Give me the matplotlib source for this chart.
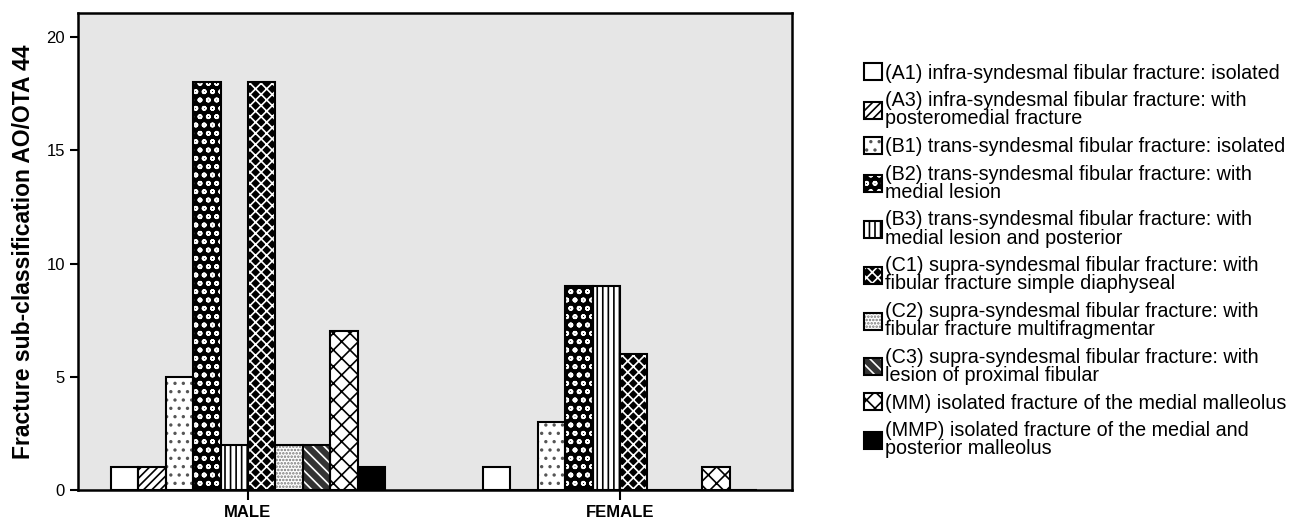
import numpy as np
import matplotlib.pyplot as plt
from matplotlib.patches import Patch
from matplotlib.legend_handler import HandlerTuple

plt.rcParams['font.family'] = ['Liberation Sans', 'DejaVu Sans']
plt.rcParams['hatch.linewidth'] = 1.2

groups = ["MALE", "FEMALE"]
labels = [
    "(A1) infra-syndesmal fibular fracture: isolated",
    "(A3) infra-syndesmal fibular fracture: with\nposteromedial fracture",
    "(B1) trans-syndesmal fibular fracture: isolated",
    "(B2) trans-syndesmal fibular fracture: with\nmedial lesion",
    "(B3) trans-syndesmal fibular fracture: with\nmedial lesion and posterior",
    "(C1) supra-syndesmal fibular fracture: with\nfibular fracture simple diaphyseal",
    "(C2) supra-syndesmal fibular fracture: with\nfibular fracture multifragmentar",
    "(C3) supra-syndesmal fibular fracture: with\nlesion of proximal fibular",
    "(MM) isolated fracture of the medial malleolus",
    "(MMP) isolated fracture of the medial and\nposterior malleolus",
]
male = [1, 1, 5, 18, 2, 18, 2, 2, 7, 1]
female = [1, 0, 3, 9, 9, 6, 0, 0, 1, 0]

# (face, hatch colour, hatch)
styles = [
    ("white", "black", ""),
    ("white", "black", "////"),
    ("white", "#555555", ".."),
    ("black", "white", "oo"),
    ("white", "black", "|||"),
    ("black", "white", "xxx"),
    ("white", "#777777", "....."),
    ("#333333", "white", "\\\\\\"),
    ("white", "black", "xx"),
    ("black", "black", ""),
]

fig = plt.figure(figsize=(12.91, 5.19), dpi=100)
ax = fig.add_axes([0.0604, 0.0559, 0.553, 0.919])
ax.set_facecolor("#e6e6e6")

x = np.arange(len(groups))
w = 0.0737
n = len(labels)
handles = []
for i in range(n):
    face, hc, hatch = styles[i]
    pos = x + (i - (n - 1) / 2) * w
    vals = [male[i], female[i]]
    ax.bar(pos, vals, w, color=face, edgecolor=hc, hatch=hatch, linewidth=0, zorder=2)
    ax.bar(pos, vals, w, facecolor="none", edgecolor="black", linewidth=1.5, zorder=3)
    handles.append((Patch(facecolor=face, edgecolor=hc, hatch=hatch, linewidth=0),
                    Patch(facecolor="none", edgecolor="black", linewidth=1.5)))

ax.set_xlim(-0.457, 1.462)
ax.set_ylim(0, 21.06)
ax.set_yticks([0, 5, 10, 15, 20])
ax.set_xticks(x)
ax.set_xticklabels(groups, fontsize=12, fontweight="bold")
ax.tick_params(axis="y", labelsize=12, length=6, width=1.5, direction="out")
ax.tick_params(axis="x", length=7, width=1.5, direction="out", pad=4)
for s in ax.spines.values():
    s.set_linewidth(1.8)
ax.set_ylabel("Fracture sub-classification AO/OTA 44", fontsize=16.5, fontweight="bold", labelpad=8)

leg = fig.legend(handles, labels, loc="upper left", bbox_to_anchor=(0.669, 0.878),
                 handler_map={tuple: HandlerTuple(ndivide=1, pad=0)},
                 frameon=False, fontsize=14.2, handlelength=0.95, handleheight=0.95,
                 handletextpad=0.12, labelspacing=0.43, borderaxespad=0, borderpad=0)
for t in leg.get_texts():
    t.set_linespacing(0.95)

fig.savefig("out.png", dpi=100)
